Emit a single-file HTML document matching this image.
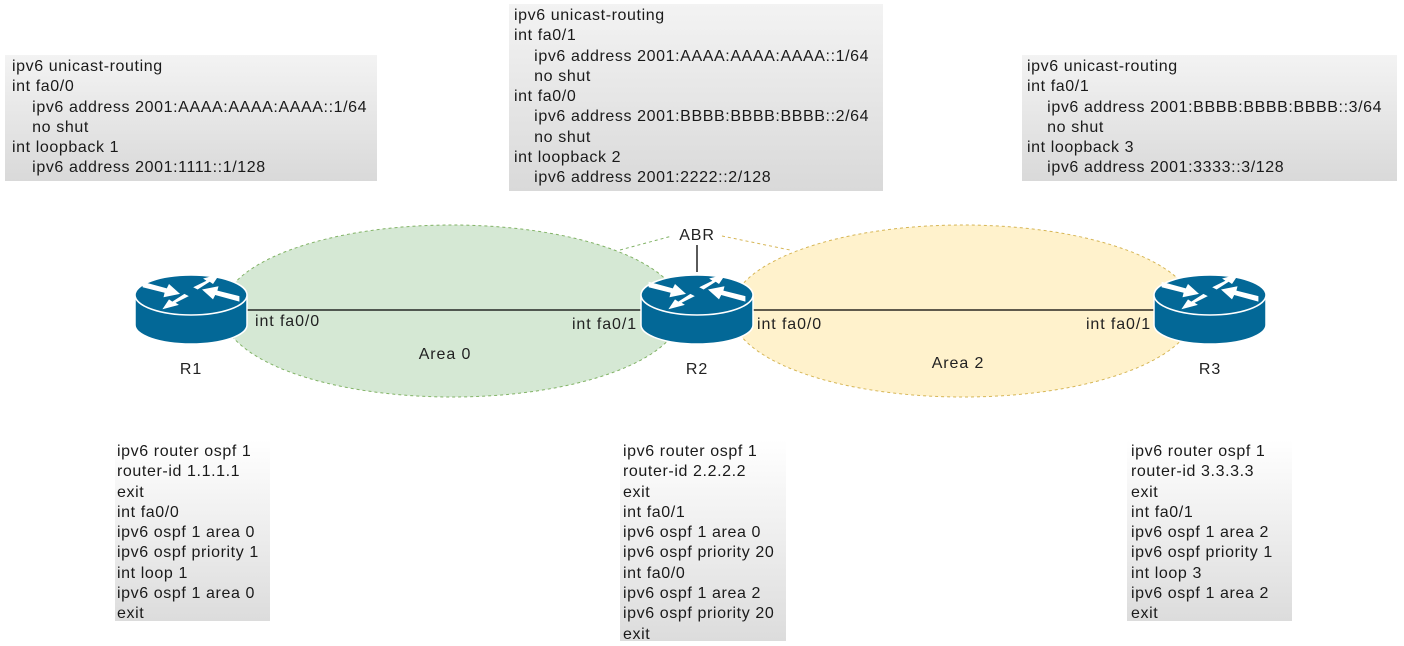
<!DOCTYPE html>
<html><head><meta charset="utf-8"><style>
body{margin:0;width:1404px;height:646px;background:#fff;overflow:hidden;position:relative;font-family:"Liberation Sans",Arial,sans-serif;}
.box{position:absolute;font-size:16px;letter-spacing:0.6px;line-height:20.3px;color:#1a1a1a;white-space:pre;box-sizing:border-box;padding-left:7px;}
.top{background:linear-gradient(#f3f3f3,#d9d9d9);}
.bot{background:linear-gradient(#ffffff,#dcdcdc);}
svg{position:absolute;left:0;top:0}
</style></head><body>
<div class="box top" style="left:5px;top:55px;width:372px;height:126px;padding-top:2px">ipv6 unicast-routing
int fa0/0
    ipv6 address 2001:AAAA:AAAA:AAAA::1/64
    no shut
int loopback 1
    ipv6 address 2001:1111::1/128</div>
<div class="box top" style="left:509px;top:4px;width:374px;height:187px;padding-top:2px;padding-left:5px">ipv6 unicast-routing
int fa0/1
    ipv6 address 2001:AAAA:AAAA:AAAA::1/64
    no shut
int fa0/0
    ipv6 address 2001:BBBB:BBBB:BBBB::2/64
    no shut
int loopback 2
    ipv6 address 2001:2222::2/128</div>
<div class="box top" style="left:1022px;top:55px;width:375px;height:126px;padding-top:2px;padding-left:5px">ipv6 unicast-routing
int fa0/1
    ipv6 address 2001:BBBB:BBBB:BBBB::3/64
    no shut
int loopback 3
    ipv6 address 2001:3333::3/128</div>
<svg width="1404" height="646">
<ellipse cx="452" cy="311" rx="230" ry="86" fill="#d5e8d4" stroke="#82b366" stroke-dasharray="3,3"/>
<ellipse cx="963" cy="311" rx="232" ry="86" fill="#fff2cc" stroke="#d6b656" stroke-dasharray="3,3"/>
<line x1="620" y1="250" x2="672" y2="236" stroke="#82b366" stroke-dasharray="3,3"/>
<line x1="722" y1="236" x2="790" y2="250" stroke="#d6b656" stroke-dasharray="3,3"/>
<line x1="247" y1="310" x2="641" y2="310" stroke="#000" stroke-width="1.3"/>
<line x1="753" y1="310" x2="1155" y2="310" stroke="#000" stroke-width="1.3"/>
<line x1="697" y1="245" x2="697" y2="272" stroke="#000" stroke-width="1.3"/>
<defs>
<g id="rt">
<path d="M-56,-5 L-56,25 A56,19 0 0 0 56,25 L56,-5 Z" fill="#036897" stroke="#fff" stroke-width="1.5"/>
<ellipse cx="0" cy="-5" rx="56" ry="20" fill="#036897" stroke="#fff" stroke-width="1.5"/>
<g fill="#fff" transform="translate(0,-5) scale(1.1)">
<polygon points="-44,-12 -22,-6 -20,-10 -10,-1 -25,2 -24,-2 -44,-7"/>
<polygon points="44,6 22,0 20,4 10,-5 25,-8 24,-4 44,1"/>
<polygon points="2,-7 14,-13 11,-15 26,-19 20,-10 17,-12 6,-5"/>
<polygon points="-2,1 -14,7 -11,9 -26,13 -20,4 -17,6 -6,-1"/>
</g>
</g>
</defs>
<use href="#rt" x="191" y="300"/>
<use href="#rt" x="697" y="300"/>
<use href="#rt" x="1210" y="300"/>
<g font-family="Liberation Sans,Arial,sans-serif" font-size="16" letter-spacing="0.9" fill="#222">
<text x="697" y="240" text-anchor="middle">ABR</text>
<text x="255" y="326">int fa0/0</text>
<text x="637" y="329" text-anchor="end">int fa0/1</text>
<text x="757" y="329">int fa0/0</text>
<text x="1151" y="329" text-anchor="end">int fa0/1</text>
<text x="445" y="359" text-anchor="middle">Area 0</text>
<text x="958" y="368" text-anchor="middle">Area 2</text>
<text x="191" y="374" text-anchor="middle">R1</text>
<text x="697" y="374" text-anchor="middle">R2</text>
<text x="1210" y="374" text-anchor="middle">R3</text>
</g>
</svg>
<div class="box bot" style="left:115px;top:440px;width:155px;height:181px;padding-top:2px;padding-left:2px">ipv6 router ospf 1
router-id 1.1.1.1
exit
int fa0/0
ipv6 ospf 1 area 0
ipv6 ospf priority 1
int loop 1
ipv6 ospf 1 area 0
exit</div>
<div class="box bot" style="left:620px;top:440px;width:166px;height:201px;padding-top:2px;padding-left:3px">ipv6 router ospf 1
router-id 2.2.2.2
exit
int fa0/1
ipv6 ospf 1 area 0
ipv6 ospf priority 20
int fa0/0
ipv6 ospf 1 area 2
ipv6 ospf priority 20
exit</div>
<div class="box bot" style="left:1127px;top:440px;width:165px;height:181px;padding-top:2px;padding-left:4px">ipv6 router ospf 1
router-id 3.3.3.3
exit
int fa0/1
ipv6 ospf 1 area 2
ipv6 ospf priority 1
int loop 3
ipv6 ospf 1 area 2
exit</div>
</body></html>
